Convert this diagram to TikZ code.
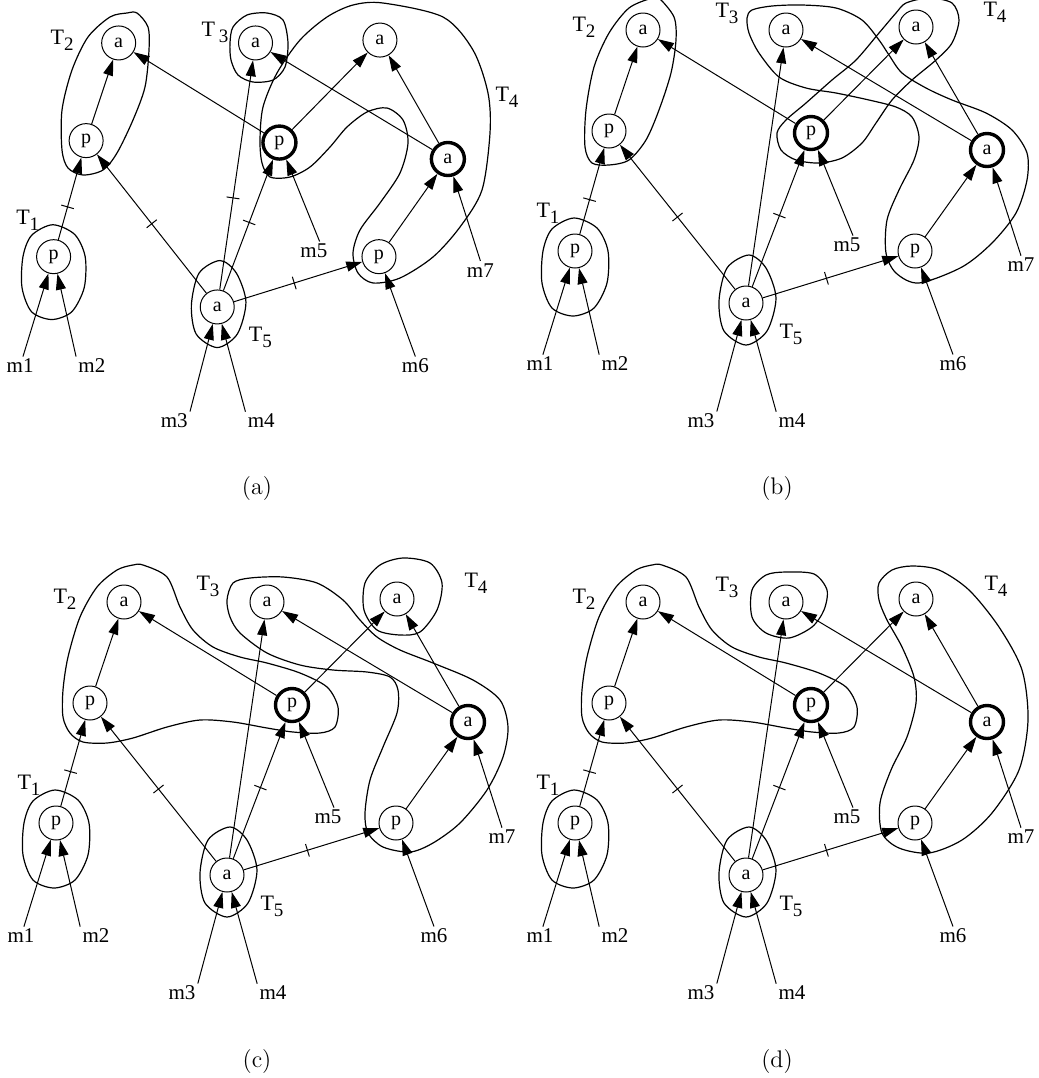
\documentclass[tikz,border=0pt]{standalone}
\usepackage{fontspec}
\newfontfamily\timesf{Liberation Serif}
\usetikzlibrary{arrows.meta}

% lowered index after a "T"
\newcommand\Tsub[1]{\raisebox{-3pt}{\fontsize{9.5}{10}\selectfont #1}}
% short stroke across an edge
\newcommand\tickrule{\rule[-3.25pt]{0.5pt}{6.5pt}}

\tikzset{
  vtx/.style={circle, draw, line width=0.5pt, minimum size=17pt, inner sep=0pt,
              font=\timesf\fontsize{10}{10}\selectfont},
  bvtx/.style={vtx, line width=1.7pt, minimum size=16.5pt},
  lbl/.style={inner sep=1pt, font=\timesf\fontsize{10.5}{11}\selectfont},
  tlbl/.style={inner sep=1pt, font=\timesf\fontsize{11}{11}\selectfont},
  captxt/.style={inner sep=1pt, font=\fontsize{12}{12}\selectfont},
  arr/.style={line width=0.5pt, -{Triangle[length=8pt,width=5pt]}},
  blob/.style={line width=0.6pt},
  tickmark/.style={sloped, inner sep=0pt, outer sep=0pt, minimum size=0pt},
}

% T1 and T5 outlines (common to every panel)
\newcommand\sharedblobs{%
  \draw[blob] plot[smooth cycle] coordinates {(55,250) (78,260) (89,283) (88,315)
    (75,340) (54,348) (33,340) (23,315) (24,283) (33,261)};
  \draw[blob] plot[smooth cycle] coordinates {(230,287) (247,300) (257,330) (248,363)
    (227,377) (205,363) (200,333) (208,300)};
}

% wavy T2 outline of the lower panels
\newcommand\wavyblob{%
  \draw[blob] plot[smooth cycle] coordinates {(143,25) (167,37) (180,67) (193,90)
    (213,107) (240,117) (267,123) (300,133) (327,147) (338,167) (335,187) (320,193)
    (293,192) (267,188) (233,182) (200,180) (167,187) (133,198) (107,203) (83,202)
    (70,193) (63,177) (63,150) (68,117) (80,77) (97,47) (117,30) (133,25)};
}

% vertices, inputs and edges; #1 = name prefix, #2 = optional mark on va -> ha
\newcommand\drawgraph[2]{%
  \node[vtx]  (#1ta) at (124,62)  {a};
  \node[vtx]  (#1tp) at (90,163)  {p};
  \node[vtx]  (#1op) at (56,283)  {p};
  \node[vtx]  (#1ha) at (267,62)  {a};
  \node[vtx]  (#1fa) at (397,59)  {a};
  \node[bvtx] (#1bp) at (292,165) {p};
  \node[bvtx] (#1ba) at (468,182) {a};
  \node[vtx]  (#1fp) at (396,283) {p};
  \node[vtx]  (#1va) at (227,335) {a};
  \node[lbl] (#1m1) at (21,396)  {m1};
  \node[lbl] (#1m2) at (96,396)  {m2};
  \node[lbl] (#1m3) at (182,453) {m3};
  \node[lbl] (#1m4) at (273,453) {m4};
  \node[lbl] (#1m5) at (328,277) {m5};
  \node[lbl] (#1m6) at (434,396) {m6};
  \node[lbl] (#1m7) at (502,297) {m7};
  \node[tlbl] (#1T1) at (29,245)  {T\Tsub{1}};
  \node[tlbl] (#1T2) at (65,59)   {T\Tsub{2}};
  \node[tlbl] (#1T5) at (272,366) {T\Tsub{5}};
  \draw[arr] (#1m1) -- (#1op);
  \draw[arr] (#1m2.north west) -- (#1op);
  \draw[arr] (#1op) -- node[tickmark,pos=.4] (#1k1) {\tickrule} (#1tp);
  \draw[arr] (#1tp) -- (#1ta);
  \draw[arr] (#1va) -- node[tickmark,pos=.5] (#1k2) {\tickrule} (#1tp);
  \draw[arr] (#1va) -- #2 (#1ha);
  \draw[arr] (#1va) -- node[tickmark,pos=.52] (#1k3) {\tickrule} (#1bp);
  \draw[arr] (#1va) -- node[tickmark,pos=.47] (#1k4) {\tickrule} (#1fp);
  \draw[arr] (#1m3.north east) -- (#1va);
  \draw[arr] (#1m4.north west) -- (#1va);
  \draw[arr] (#1bp) -- (#1ta);
  \draw[arr] (#1bp) -- (#1fa);
  \draw[arr] ([xshift=3pt]#1m5.north) -- (#1bp);
  \draw[arr] (#1ba) -- (#1ha);
  \draw[arr] (#1ba) -- (#1fa);
  \draw[arr] (#1fp) -- (#1ba);
  \draw[arr] (#1m6.north) -- (#1fp);
  \draw[arr] (#1m7.north) -- (#1ba);
}

\begin{document}
\begin{tikzpicture}[x=0.5pt,y=-0.5pt]
\useasboundingbox (0,0) rectangle (1039,1078);
\fill[white] (0,0) rectangle (1039,1078);
\clip (0,0) rectangle (1039,1078);

% ---------------- panel (a)
\draw[blob] plot[smooth cycle] coordinates {(137,13) (148,27) (149,50) (145,87)
  (133,120) (117,153) (103,170) (83,175) (68,168) (62,150) (62,110) (72,70) (88,37)
  (110,17) (127,13)};
\draw[blob] plot[smooth cycle] coordinates {(233,27) (247,15) (267,13) (283,20)
  (288,43) (285,67) (273,80) (253,82) (238,75) (231,60) (230,43)};
\draw[blob] plot[smooth cycle] coordinates {(383,3) (443,17) (473,50) (488,93)
  (490,133) (482,190) (460,227) (433,257) (400,278) (373,283) (358,273) (353,253)
  (360,230) (380,203) (400,173) (408,143) (403,120) (387,108) (367,112) (347,127)
  (330,147) (310,167) (290,177) (270,177) (262,163) (260,140) (263,107) (277,73)
  (300,40) (327,17) (353,5)};
\begin{scope}[shift={(0,-17)},xscale=0.957,yscale=0.967]
  \sharedblobs
  \drawgraph{a}{node[tickmark,pos=.4] (ak5) {\tickrule}}
\end{scope}
\node[tlbl] (aT3) at (215,32) {T\,\Tsub{3}};
\node[tlbl] (aT4) at (507,97) {T\Tsub{4}};
\node[captxt] (acap) at (257,489) {(a)};

% ---------------- panel (b)
\begin{scope}[shift={(519,0)}]
  \draw[blob] plot[smooth cycle] coordinates {(140,-2) (155,17) (157,40) (152,73)
    (140,110) (127,140) (110,160) (90,165) (73,163) (66,147) (67,110) (75,67)
    (90,33) (110,8) (133,-2)};
  \draw[blob] plot[smooth cycle] coordinates {(228,18) (233,10) (253,6) (283,5)
    (317,8) (343,20) (360,40) (370,55) (383,73) (407,88) (433,100) (467,113)
    (493,130) (508,153) (508,180) (497,213) (473,243) (443,267) (400,283) (377,273)
    (367,253) (368,220) (380,190) (395,160) (400,137) (393,117) (377,107) (350,100)
    (317,93) (287,88) (260,77) (240,53) (230,33)};
  \draw[blob] plot[smooth cycle] coordinates {(387,3) (410,-2) (433,3) (440,20)
    (433,43) (417,60) (393,80) (373,100) (357,123) (343,143) (323,158) (300,163)
    (277,160) (262,150) (258,133) (267,120) (287,103) (313,80) (337,60) (360,33)
    (377,13)};
\end{scope}
\begin{scope}[shift={(519,-32)}]
  \sharedblobs
  \drawgraph{b}{}
  \node[tlbl] (bT3) at (208,45) {T\Tsub{3}};
  \node[tlbl] (bT4) at (476,44) {T\Tsub{4}};
\end{scope}
\node[captxt] (bcap) at (777,489) {(b)};

% ---------------- panel (c)
\begin{scope}[shift={(0,540)}]
  \sharedblobs
  \wavyblob
  \draw[blob] plot[smooth cycle] coordinates {(227,60) (233,43) (250,38) (283,37)
    (317,43) (343,60) (360,80) (377,97) (400,110) (433,123) (473,140) (500,160)
    (508,187) (503,217) (487,250) (460,283) (433,303) (410,312) (383,307) (368,293)
    (365,273) (370,240) (383,207) (397,173) (398,150) (390,137) (367,132) (333,130)
    (300,125) (267,113) (240,93) (230,77)};
  \draw[blob] plot[smooth cycle] coordinates {(403,18) (430,23) (442,43) (437,70)
    (420,92) (400,95) (377,90) (364,70) (365,43) (380,25)};
  \drawgraph{c}{}
  \node[tlbl] (cT3) at (208,46) {T\Tsub{3}};
  \node[tlbl] (cT4) at (476,43) {T\Tsub{4}};
\end{scope}
\node[captxt] (ccap) at (257,1061) {(c)};

% ---------------- panel (d)
\begin{scope}[shift={(519,540)}]
  \sharedblobs
  \wavyblob
  \draw[blob] plot[smooth cycle] coordinates {(267,32) (295,34) (308,50) (305,70)
    (293,87) (270,98) (247,93) (233,77) (233,50) (247,35)};
  \draw[blob] plot[smooth cycle] coordinates {(360,43) (373,30) (393,26) (420,30)
    (450,50) (480,87) (503,130) (509,180) (500,230) (473,273) (443,300) (410,313)
    (380,308) (363,293) (361,263) (372,230) (388,197) (397,163) (395,137) (383,107)
    (368,80) (360,60)};
  \drawgraph{d}{}
  \node[tlbl] (dT3) at (208,47) {T\Tsub{3}};
  \node[tlbl] (dT4) at (477,46) {T\Tsub{4}};
\end{scope}
\node[captxt] (dcap) at (777,1061) {(d)};

\end{tikzpicture}
\end{document}
